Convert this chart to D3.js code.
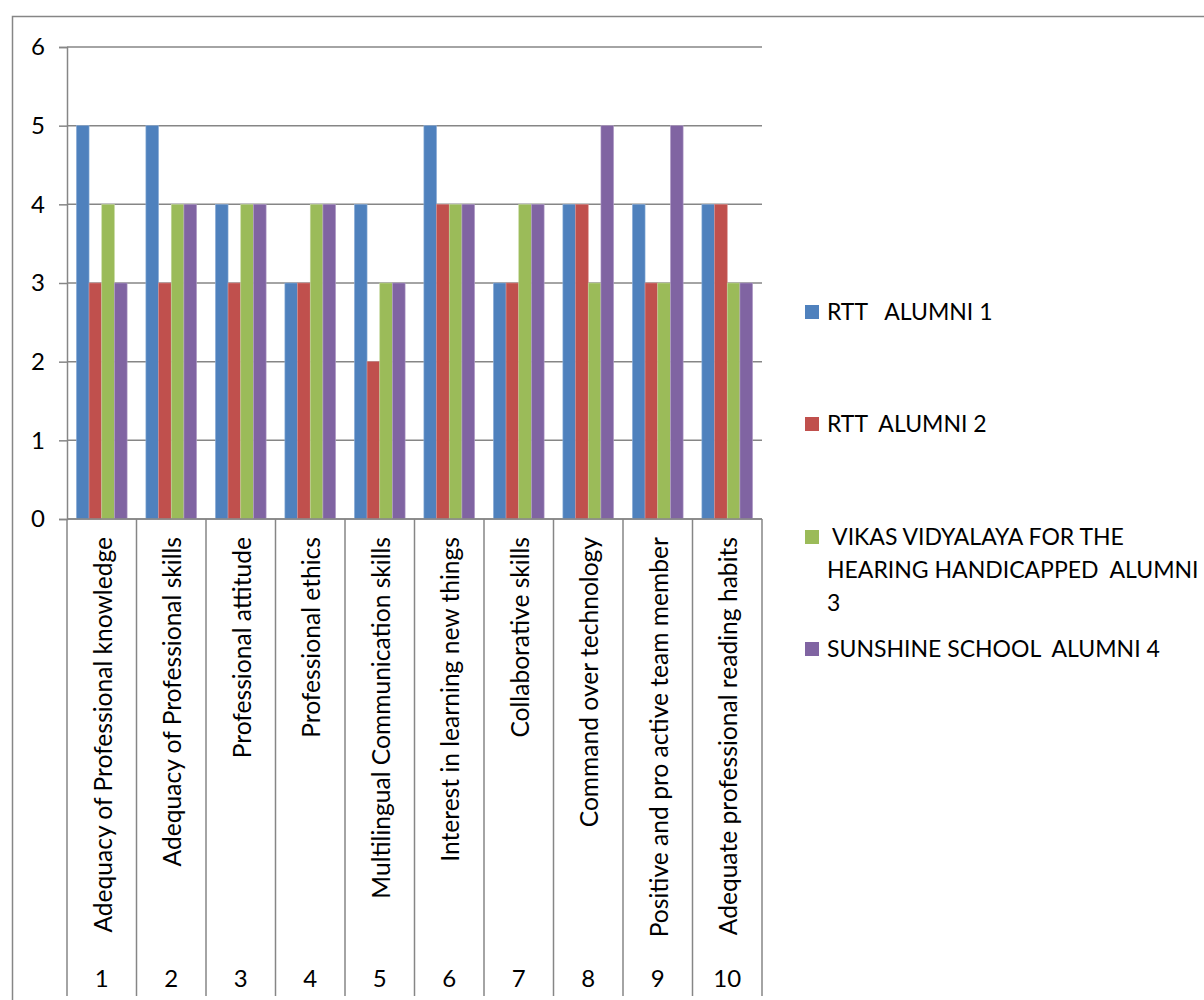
<!DOCTYPE html>
<html><head><meta charset="utf-8">
<script src="https://d3js.org/d3.v7.min.js"></script>
<style>
body{margin:0;background:#fff}
svg{display:block}
text{font-family:Lato,"Open Sans",sans-serif;fill:#000}
</style>
</head><body>
<svg id="chart" width="1204" height="1000"></svg>
<script>
const categories = [
  "Adequacy of Professional knowledge",
  "Adequacy of Professional skills",
  "Professional attitude",
  "Professional ethics",
  "Multilingual Communication skills",
  "Interest in learning new things",
  "Collaborative skills",
  "Command over technology",
  "Positive and pro active team member",
  "Adequate professional reading habits"
];
const categoryNumbers = ["1","2","3","4","5","6","7","8","9","10"];
const seriesNames = [
  "RTT   ALUMNI 1",
  "RTT  ALUMNI 2",
  " VIKAS VIDYALAYA FOR THE HEARING HANDICAPPED  ALUMNI 3",
  "SUNSHINE SCHOOL  ALUMNI 4"
];
const legendLines = [
  ["RTT   ALUMNI 1"],
  ["RTT  ALUMNI 2"],
  [" VIKAS VIDYALAYA FOR THE", "HEARING HANDICAPPED  ALUMNI", "3"],
  ["SUNSHINE SCHOOL  ALUMNI 4"]
];
const alumni1 = [5,5,4,3,4,5,3,4,4,4];
const alumni2 = [3,3,3,3,2,4,3,4,3,4];
const alumni3 = [4,4,4,4,3,4,4,3,3,3];
const alumni4 = [3,4,4,4,3,4,4,5,5,3];
const seriesValues = [alumni1, alumni2, alumni3, alumni4];
const colors = ["#4F81BD","#C0504D","#9BBB59","#8064A2"];
const edgeColors = ["#8FB0DA","#DA8D8B","#C5D9A0","#B3A0C9"];
const yTicks = [0,1,2,3,4,5,6];

const svg = d3.select("#chart");
const gridColor = "#868686";

// outer chart border
svg.append("rect").attr("x",12.5).attr("y",16.5).attr("width",1400).attr("height",1200)
  .attr("fill","none").attr("stroke",gridColor).attr("stroke-width",1.5);

const plotLeft = 67, plotRight = 762, plotTop = 47, plotBottom = 519;
const x0 = d3.scaleBand().domain(d3.range(categories.length)).range([plotLeft,plotRight]).padding(0);
const x1 = d3.scaleBand().domain(d3.range(seriesValues.length)).range([0,x0.bandwidth()]).paddingInner(0).paddingOuter(0.74);
const y = d3.scaleLinear().domain([0,6]).range([plotBottom,plotTop]);

// gridlines
svg.append("g").selectAll("line").data(yTicks).join("line")
  .attr("x1",plotLeft).attr("x2",plotRight)
  .attr("y1",d=>y(d)).attr("y2",d=>y(d))
  .attr("stroke",gridColor).attr("stroke-width",1.5);

// y axis
const yAxis = svg.append("g").attr("transform",`translate(${plotLeft},0)`)
  .call(d3.axisLeft(y).tickValues(yTicks).tickSize(8).tickPadding(14).tickFormat(d3.format("d")));
yAxis.select(".domain").attr("stroke",gridColor).attr("stroke-width",1.5);
yAxis.selectAll(".tick line").attr("stroke",gridColor).attr("stroke-width",1.5);
yAxis.selectAll(".tick text").attr("font-size",24).attr("font-family","Lato").attr("fill","#000");

// bars
const groups = svg.append("g").selectAll("g").data(seriesValues).join("g")
  .attr("fill",(d,i)=>colors[i]);
groups.selectAll("rect").data((vals,si)=>vals.map((v,ci)=>({v,ci,si}))).join("rect")
  .attr("x",d=>x0(d.ci)+x1(d.si))
  .attr("width",x1.bandwidth())
  .attr("y",d=>y(d.v))
  .attr("height",d=>y(0)-y(d.v))
  .attr("stroke",d=>edgeColors[d.si]).attr("stroke-width",0.6);

// x axis line and category dividers
svg.append("line").attr("x1",plotLeft).attr("x2",plotRight).attr("y1",plotBottom).attr("y2",plotBottom)
  .attr("stroke",gridColor).attr("stroke-width",1.5);
const bounds = d3.range(categories.length+1).map(i=> i<categories.length ? x0(i) : x0(categories.length-1)+x0.bandwidth());
svg.append("g").selectAll("line").data(bounds).join("line")
  .attr("x1",d=>d).attr("x2",d=>d).attr("y1",plotBottom).attr("y2",996)
  .attr("stroke",gridColor).attr("stroke-width",1.5);

// rotated category labels
svg.append("g").selectAll("text").data(categories).join("text")
  .attr("transform",(d,i)=>`translate(${x0(i)+x0.bandwidth()/2+10},537) rotate(-90)`)
  .attr("text-anchor","end")
  .attr("font-size",24.6)
  .text(d=>d);

// number labels
svg.append("g").selectAll("text").data(categoryNumbers).join("text")
  .attr("x",(d,i)=>x0(i)+x0.bandwidth()/2)
  .attr("y",987)
  .attr("text-anchor","middle")
  .attr("font-size",24)
  .text(d=>d);

// legend
const legendY = [312, 424, 537, 649];
const leg = svg.append("g").selectAll("g").data(seriesNames).join("g")
  .attr("transform",(d,i)=>`translate(805,${legendY[i]})`);
leg.append("rect").attr("x",0).attr("y",-7).attr("width",14).attr("height",14)
  .attr("fill",(d,i)=>colors[i]);
leg.each(function(d,i){
  const t = d3.select(this).append("text").attr("x",22).attr("y",8).attr("font-size",23)
    .style("white-space","pre");
  legendLines[i].forEach((line,j)=>{
    t.append("tspan").attr("x",22).attr("dy", j===0?0:33).text(line);
  });
});
</script>
</body></html>
